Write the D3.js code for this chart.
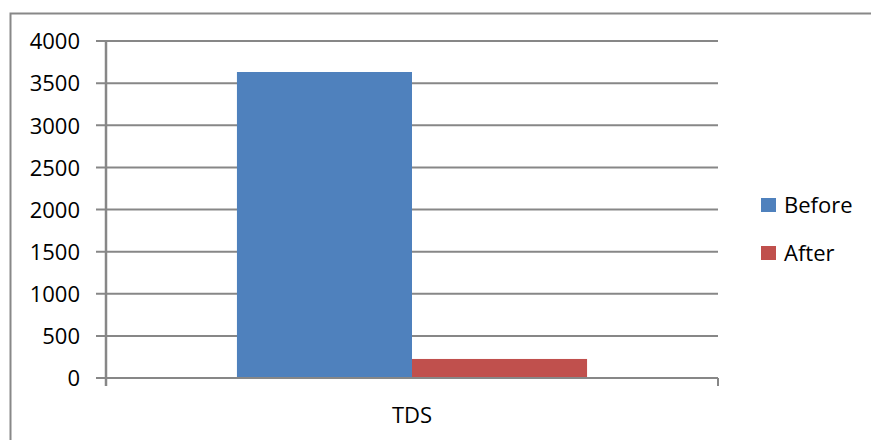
<!DOCTYPE html>
<html><head><meta charset="utf-8">
<script src="https://cdn.jsdelivr.net/npm/d3@7"></script>
<style>body{margin:0;background:#fff}svg{display:block}</style>
</head><body>
<svg id="c" width="871" height="440"></svg>
<script>
const categories = ["TDS"];
const seriesNames = ["Before", "After"];
const seriesValues = [[3632], [226]];
const colors = ["#4F81BD", "#C0504D"];
const yTicks = [0, 500, 1000, 1500, 2000, 2500, 3000, 3500, 4000];

const svg = d3.select("#c");
const font = "'Open Sans', sans-serif";
// outer frame
svg.append("rect").attr("x", 10.5).attr("y", 13.5).attr("width", 900).attr("height", 500)
  .attr("fill", "none").attr("stroke", "#888").attr("stroke-width", 2);

const pL = 106, pR = 718, pT = 41, pB = 378;
const y = d3.scaleLinear().domain([0, 4000]).range([pB, pT]);
const x0 = d3.scaleBand().domain(categories).range([pL, pR]).paddingInner(0).paddingOuter(0.374);
const x1 = d3.scaleBand().domain(seriesNames).range([0, x0.bandwidth()]);

// gridlines
svg.append("g").selectAll("line").data(yTicks).join("line")
  .attr("x1", pL - 10).attr("x2", pR).attr("y1", d => y(d)).attr("y2", d => y(d))
  .attr("stroke", "#878787").attr("stroke-width", 2);

// bars
categories.forEach((c, ci) => {
  seriesNames.forEach((s, si) => {
    svg.append("rect")
      .attr("x", x0(c) + x1(s)).attr("width", x1.bandwidth())
      .attr("y", y(seriesValues[si][ci])).attr("height", y(0) - y(seriesValues[si][ci]))
      .attr("fill", colors[si]);
  });
});

// y axis line
svg.append("line").attr("x1", pL).attr("x2", pL).attr("y1", pT).attr("y2", pB + 8)
  .attr("stroke", "#878787").attr("stroke-width", 2.5);
// x axis line
svg.append("line").attr("x1", pL - 10).attr("x2", pR).attr("y1", pB).attr("y2", pB)
  .attr("stroke", "#878787").attr("stroke-width", 2);
// x tick at right category boundary
svg.append("line").attr("x1", pR).attr("x2", pR).attr("y1", pB).attr("y2", pB + 8)
  .attr("stroke", "#878787").attr("stroke-width", 2);

// y labels
svg.append("g").selectAll("text").data(yTicks).join("text")
  .attr("x", 80).attr("y", d => y(d)).attr("dy", "0.38em")
  .attr("text-anchor", "end").attr("font-family", font).attr("font-size", 22)
  .attr("fill", "#000").text(d => d);

// x labels
svg.append("g").selectAll("text").data(categories).join("text")
  .attr("x", d => x0(d) + x0.bandwidth() / 2).attr("y", 423)
  .attr("text-anchor", "middle").attr("font-family", font).attr("font-size", 22)
  .text(d => d);

// legend
const lg = svg.append("g");
seriesNames.forEach((s, i) => {
  const yy = 198 + i * 48;
  lg.append("rect").attr("x", 761).attr("y", yy).attr("width", 15).attr("height", 14).attr("fill", colors[i]);
  lg.append("text").attr("x", 784).attr("y", yy + 7).attr("dy", "0.38em")
    .attr("font-family", font).attr("font-size", 22).text(s);
});
</script>
</body></html>
